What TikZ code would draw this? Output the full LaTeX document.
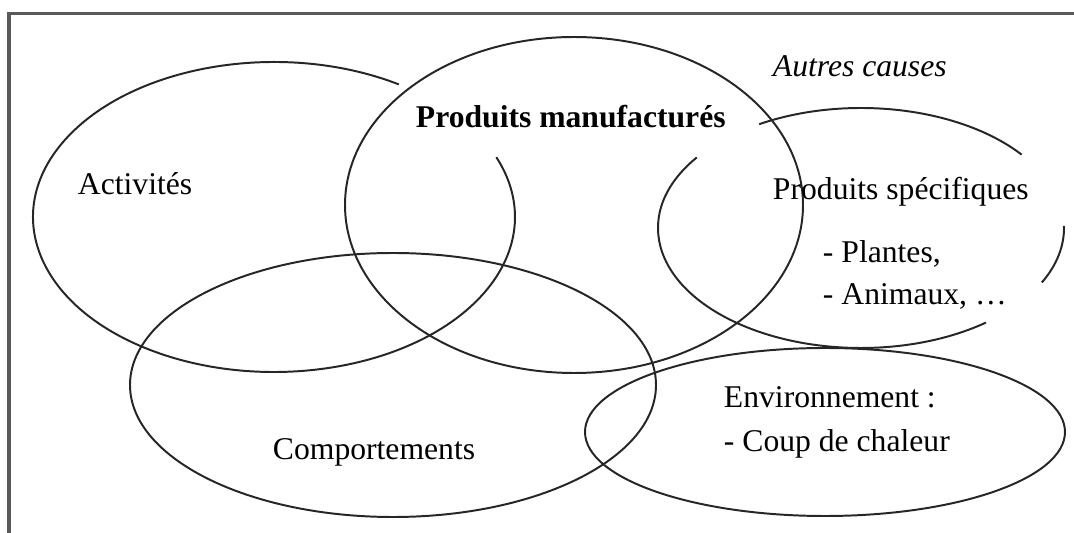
\documentclass[tikz,border=0pt]{standalone}
\usepackage{fontspec}
\setmainfont{Liberation Serif}

\begin{document}
\begin{tikzpicture}[x=0.025cm, y=0.025cm, every path/.style={line width=1.4pt}, every node/.style={inner sep=0pt, anchor=base west, font=\fontsize{22.5pt}{27pt}\selectfont}]
\useasboundingbox (0,0) rectangle (1074,533);
\draw[black!65, line width=2.4pt] (9,0) -- (9,519.5) -- (1074,519.5);

\coordinate (cact) at (274,316);
\coordinate (cman) at (574,328);
\coordinate (cspe) at (861,305);
\coordinate (ccom) at (393,148);
\coordinate (cenv) at (825,101);

\draw[black!85] ([shift={(58.8:241 and 155)}]cact) arc[start angle=58.8, end angle=382.7, x radius=241, y radius=155];
\draw[black!85] (cman) ellipse[x radius=229, y radius=168];
\draw[black!85] ([shift={(37.7:203 and 120)}]cspe) arc[start angle=37.7, end angle=120.1, x radius=203, y radius=120];
\draw[black!85] ([shift={(144:203 and 120)}]cspe) arc[start angle=144, end angle=308, x radius=203, y radius=120];
\draw[black!85] ([shift={(-27:203 and 120)}]cspe) arc[start angle=-27, end angle=1, x radius=203, y radius=120];
\draw[black!85] (ccom) ellipse[x radius=263, y radius=132];
\draw[black!85] (cenv) ellipse[x radius=240, y radius=84];

\node[font=\fontsize{22.5pt}{27pt}\selectfont\itshape] (aut) at (772,456) {Autres causes};
\node[font=\fontsize{22.5pt}{27pt}\selectfont\bfseries] (man) at (415,405) {Produits manufacturés};
\node (act) at (77,338) {Activités};
\node (spe) at (772,333) {Produits spécifiques};
\node (pla) at (822,270) {- Plantes,};
\node (ani) at (822,228) {- Animaux, \ldots};
\node (env) at (723,125) {Environnement :};
\node (cou) at (723,81) {- Coup de chaleur};
\node (com) at (272,73) {Comportements};
\end{tikzpicture}
\end{document}
